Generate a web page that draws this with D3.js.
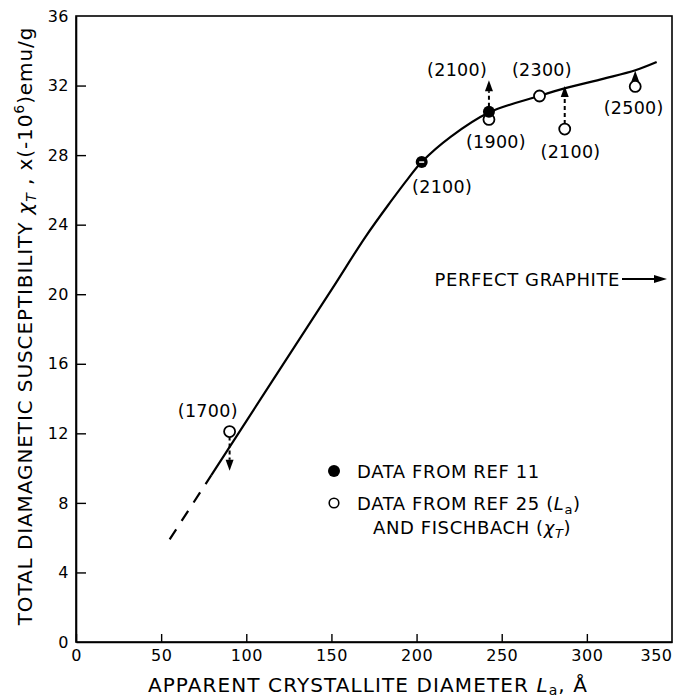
<!DOCTYPE html>
<html><head><meta charset="utf-8">
<script src="https://cdn.jsdelivr.net/npm/d3@7"></script>
<style>
body{margin:0;background:#fff}
text{font-family:"DejaVu Sans",sans-serif;fill:#000}
</style></head>
<body>
<svg id="chart" width="675" height="699"></svg>
<script>
// ---- data ----
const xTicks = [0,50,100,150,200,250,300,350];
const yTicks = [0,4,8,12,16,20,24,28,32,36];
// fitted curve (solid part) and its dashed extrapolation
const curveDashed = [[55,5.9],[79.5,9.6]];
const curveSolid = [[79.5,9.6],[115.7,15.07],[150,20.25],[170,23.3],[185,25.35],[195,26.65],[203,27.6],[220,29.05],[242.5,30.45],[272,31.4],[287.4,31.85],[310,32.4],[328.5,32.88],[341,33.35]];
// data from Ref 11 (filled)
const filledX = [242.5, 203];
const filledY = [30.5, 27.6];
// data from Ref 25 and Fischbach (open)
const openX = [90.2, 242.5, 272.2, 287, 328.4];
const openY = [12.1, 30.05, 31.4, 29.5, 31.95];
// arrows: from value -> to value
const arrowX  = [90.2, 242.5, 287, 328.4];
const arrowY0 = [12.1, 30.5, 29.5, 31.95];
const arrowY1 = [9.85, 32.3, 31.97, 32.85];
const arrowDashed = [true, true, true, false];
// heat-treatment temperature labels
const labelText = ["(1700)","(2100)","(2100)","(1900)","(2300)","(2100)","(2500)"];
const labelX = [77.4, 215, 223.8, 246.6, 273.6, 290.4, 327.5];
const labelY = [13.3, 26.16, 32.9, 28.75, 32.9, 28.2, 30.7];

// ---- layout ----
const svg = d3.select("#chart");
const L = 76, R = 672, T = 16, B = 642;
const x = d3.scaleLinear().domain([0,350]).range([L,R]);
const y = d3.scaleLinear().domain([0,36]).range([B,T]);

svg.append("rect").attr("x",L).attr("y",T).attr("width",R-L).attr("height",B-T)
  .attr("fill","none").attr("stroke","#000").attr("stroke-width",1.6);

const yAxis = d3.axisLeft(y).tickValues(yTicks).tickSize(-10).tickSizeOuter(0).tickPadding(7).tickFormat(d3.format("d"));
const gy = svg.append("g").attr("transform",`translate(${L},0)`).call(yAxis);
const xAxis = d3.axisBottom(x).tickValues(xTicks).tickSize(-8).tickSizeOuter(0).tickPadding(8).tickFormat(d3.format("d"));
const gx = svg.append("g").attr("transform",`translate(0,${B})`).call(xAxis);
[gx,gy].forEach(g=>{
  g.select(".domain").attr("stroke","#000").attr("stroke-width",1.6);
  g.selectAll(".tick line").attr("stroke","#000").attr("stroke-width",1.4);
  g.selectAll(".tick text").attr("font-family","DejaVu Sans").attr("font-size",16).attr("letter-spacing",0.5).attr("fill","#000");
});
gx.selectAll(".tick").filter(d=>d===350).select("line").remove();
gx.selectAll(".tick").filter(d=>d===350).select("text").attr("text-anchor","end").attr("x",0);
gy.selectAll(".tick").filter(d=>d===0||d===36).select("line").remove();

// curve
const line = d3.line().x(d=>x(d[0])).y(d=>y(d[1])).curve(d3.curveCatmullRom.alpha(0.5));
svg.append("path").attr("d",line(curveSolid)).attr("fill","none").attr("stroke","#000").attr("stroke-width",2.2);
svg.append("path").attr("d",d3.line().x(d=>x(d[0])).y(d=>y(d[1]))(curveDashed))
  .attr("fill","none").attr("stroke","#000").attr("stroke-width",2.2).attr("stroke-dasharray","12,10");

// arrows
arrowX.forEach((ax,i)=>{
  const px = x(ax), p0 = y(arrowY0[i]), p1 = y(arrowY1[i]);
  const dir = p1 < p0 ? -1 : 1;
  const headLen = 11, headW = 4;
  const start = p0 + dir*5;
  const baseY = p1 - dir*headLen;
  svg.append("line").attr("x1",px).attr("x2",px).attr("y1",start).attr("y2",baseY)
    .attr("stroke","#000").attr("stroke-width",2)
    .attr("stroke-dasharray", arrowDashed[i] ? "4,3" : null);
  svg.append("path").attr("d",`M${px},${p1}L${px-headW},${baseY}L${px+headW},${baseY}Z`).attr("fill","#000");
});

openX.forEach((ox,i)=>{
  svg.append("circle").attr("cx",x(ox)).attr("cy",y(openY[i])).attr("r",5.5)
    .attr("fill","#fff").attr("stroke","#000").attr("stroke-width",1.8);
});
filledX.forEach((fx,i)=>{
  svg.append("circle").attr("cx",x(fx)).attr("cy",y(filledY[i])).attr("r",6).attr("fill","#000");
});
svg.append("line").attr("x1",x(filledX[1])-2.5).attr("x2",x(filledX[1])+2.5)
  .attr("y1",y(filledY[1])).attr("y2",y(filledY[1])).attr("stroke","#fff").attr("stroke-width",1.5);

labelText.forEach((t,i)=>{
  svg.append("text").attr("x",x(labelX[i])).attr("y",y(labelY[i])).attr("dy","0.36em")
    .attr("text-anchor","middle").attr("font-size",17.5).attr("letter-spacing",0.3).text(t);
});

// perfect graphite
svg.append("text").attr("x",620).attr("y",286).attr("text-anchor","end").attr("font-size",18).attr("letter-spacing",0.6).text("PERFECT GRAPHITE");
svg.append("line").attr("x1",622).attr("x2",656).attr("y1",279).attr("y2",279).attr("stroke","#000").attr("stroke-width",2);
svg.append("path").attr("d","M667,279L654,275L654,283Z").attr("fill","#000");

// legend
const LS = {size:18, ls:0.6};
svg.append("circle").attr("cx",334).attr("cy",471).attr("r",6).attr("fill","#000");
svg.append("circle").attr("cx",334).attr("cy",503).attr("r",4.8).attr("fill","#fff").attr("stroke","#000").attr("stroke-width",1.6);
svg.append("text").attr("x",357).attr("y",478).attr("font-size",LS.size).attr("letter-spacing",LS.ls).text("DATA FROM REF 11");
const l2 = svg.append("text").attr("x",357).attr("y",510).attr("font-size",LS.size).attr("letter-spacing",LS.ls);
l2.append("tspan").text("DATA FROM REF 25 (");
l2.append("tspan").attr("font-style","italic").text("L");
l2.append("tspan").attr("font-size",13).attr("dy",4).text("a");
l2.append("tspan").attr("dy",-4).text(")");
const l3 = svg.append("text").attr("x",373).attr("y",534).attr("font-size",LS.size).attr("letter-spacing",LS.ls);
l3.append("tspan").text("AND FISCHBACH (");
l3.append("tspan").attr("font-style","italic").text("χ");
l3.append("tspan").attr("font-size",13).attr("font-style","italic").attr("dy",4).text("T");
l3.append("tspan").attr("dy",-4).text(")");

// x axis label
const xl = svg.append("text").attr("x",368).attr("y",692).attr("text-anchor","middle").attr("font-size",20).attr("letter-spacing",1.1);
xl.append("tspan").text("APPARENT CRYSTALLITE DIAMETER ");
xl.append("tspan").attr("font-style","italic").text("L");
xl.append("tspan").attr("font-size",14).attr("dy",3).text("a");
xl.append("tspan").attr("dy",-3).text(", Å");

// y axis label
const yl = svg.append("text").attr("transform","translate(32,326) rotate(-90)").attr("text-anchor","middle").attr("font-size",20).attr("letter-spacing",0.9);
yl.append("tspan").text("TOTAL DIAMAGNETIC SUSCEPTIBILITY  ");
yl.append("tspan").attr("font-style","italic").text("χ");
yl.append("tspan").attr("font-size",14).attr("font-style","italic").attr("dy",4).text("T");
yl.append("tspan").attr("dy",-4).text(" ,  x(-10");
yl.append("tspan").attr("font-size",14).attr("dy",-8).text("6");
yl.append("tspan").attr("dy",8).text(")emu/g");
</script>
</body></html>
